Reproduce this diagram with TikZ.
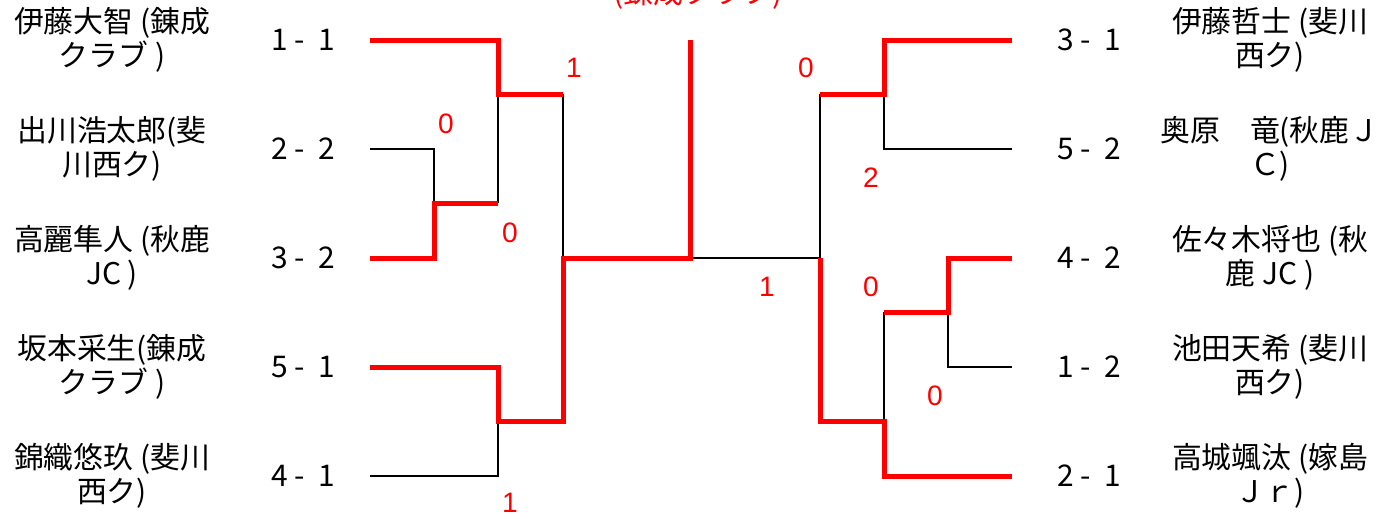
\documentclass[tikz,border=0pt]{standalone}
\usepackage{fontspec}
\setmainfont{Noto Sans CJK JP}
\newfontfamily\numfont{Liberation Sans}
\usepackage{xcolor}
\usepackage{tikz}

\begin{document}
\begin{tikzpicture}[
    x=0.02cm, y=-0.02cm,
    every node/.style={inner sep=0pt},
    player/.style={align=center, font=\fontsize{17}{19.3}\selectfont},
    score/.style={font=\fontsize{17}{20}\selectfont},
    pts/.style={text=red, font=\numfont\fontsize{16}{18}\selectfont},
    win/.style={draw=red, line width=2.85pt},
    lose/.style={draw=black, line width=1.6pt}
]
\useasboundingbox (0,0) rectangle (1396,518);

% Left players
\node[player] (p1) at (112,40) {伊藤大智 (錬成\\クラブ )};
\node[player] (p2) at (112,149) {出川浩太郎(斐\\川西ク)};
\node[player] (p3) at (112,258) {高麗隼人 (秋鹿\\JC )};
\node[player] (p4) at (112,367) {坂本采生(錬成\\クラブ )};
\node[player] (p5) at (112,476) {錦織悠玖 (斐川\\西ク)};

\node[score] (s1) at (303,40) {1 -~ 1};
\node[score] (s2) at (303,149) {2 -~ 2};
\node[score] (s3) at (303,258) {3 -~ 2};
\node[score] (s4) at (303,367) {5 -~ 1};
\node[score] (s5) at (303,476) {4 -~ 1};

% Right players
\node[player] (q1) at (1270,40) {伊藤哲士 (斐川\\西ク)};
\node[player] (q2) at (1270,149) {奥原　竜(秋鹿Ｊ\\Ｃ)};
\node[player] (q3) at (1270,258) {佐々木将也 (秋\\鹿 JC )};
\node[player] (q4) at (1270,367) {池田天希 (斐川\\西ク)};
\node[player] (q5) at (1270,476) {高城颯汰 (嫁島\\Ｊｒ)};

\node[score] (t1) at (1089,40) {3 -~ 1};
\node[score] (t2) at (1089,149) {5 -~ 2};
\node[score] (t3) at (1089,258) {4 -~ 2};
\node[score] (t4) at (1089,367) {1 -~ 2};
\node[score] (t5) at (1089,476) {2 -~ 1};

% Champion
\node[text=red, font=\fontsize{17}{20}\selectfont, anchor=base] (champ) at (698,3) {(錬成クラブ)};

% Line ends and joints
\coordinate (L1) at (370,40);
\coordinate (L2) at (370,149);
\coordinate (L3) at (370,258);
\coordinate (L4) at (370,367);
\coordinate (L5) at (370,476);
\coordinate (R1) at (1012,40);
\coordinate (R2) at (1012,149);
\coordinate (R3) at (1012,258);
\coordinate (R4) at (1012,367);
\coordinate (R5) at (1012,476);
\coordinate (m23) at (434,203);
\coordinate (m123) at (498,94);
\coordinate (m45) at (498,421);
\coordinate (sfL) at (563,258);
\coordinate (fin) at (690,258);
\coordinate (sfR) at (820,258);
\coordinate (n12) at (884,94);
\coordinate (n34) at (948,312);
\coordinate (n345) at (884,421);

% Losing lines
\draw[lose] (L2) -| (m23);
\draw[lose] (m123) -- (m23 -| m123);
\draw[lose] (m123 -| sfL) -- (sfL);
\draw[lose] (L5) -| (m45);
\draw[lose] (fin) -- (sfR);
\draw[lose] (R2) -| (n12);
\draw[lose] (n12 -| sfR) -- (sfR);
\draw[lose] (R4) -| (n34);
\draw[lose] (n345) -- (n34 -| n345);

% Winning lines
\draw[win] (L1) -| (m123) -- (m123 -| sfL);
\draw[win] (L3) -| (m23) -- (m23 -| m123);
\draw[win] (L4) -| (m45) -- (m45 -| sfL) -- (sfL) -- (fin) -- (fin |- L1);
\draw[win] (R1) -| (n12) -- (n12 -| sfR);
\draw[win] (R3) -| (n34) -- (n34 -| n345);
\draw[win] (sfR) |- (n345) |- (R5);

% Game points
\node[pts] (g1) at (574,68) {1};
\node[pts] (g2) at (446,124) {0};
\node[pts] (g3) at (510,233) {0};
\node[pts] (g4) at (510,503) {1};
\node[pts] (g5) at (767,287) {1};
\node[pts] (g6) at (806,68) {0};
\node[pts] (g7) at (871,178) {2};
\node[pts] (g8) at (871,287) {0};
\node[pts] (g9) at (935,396) {0};

\end{tikzpicture}
\end{document}
